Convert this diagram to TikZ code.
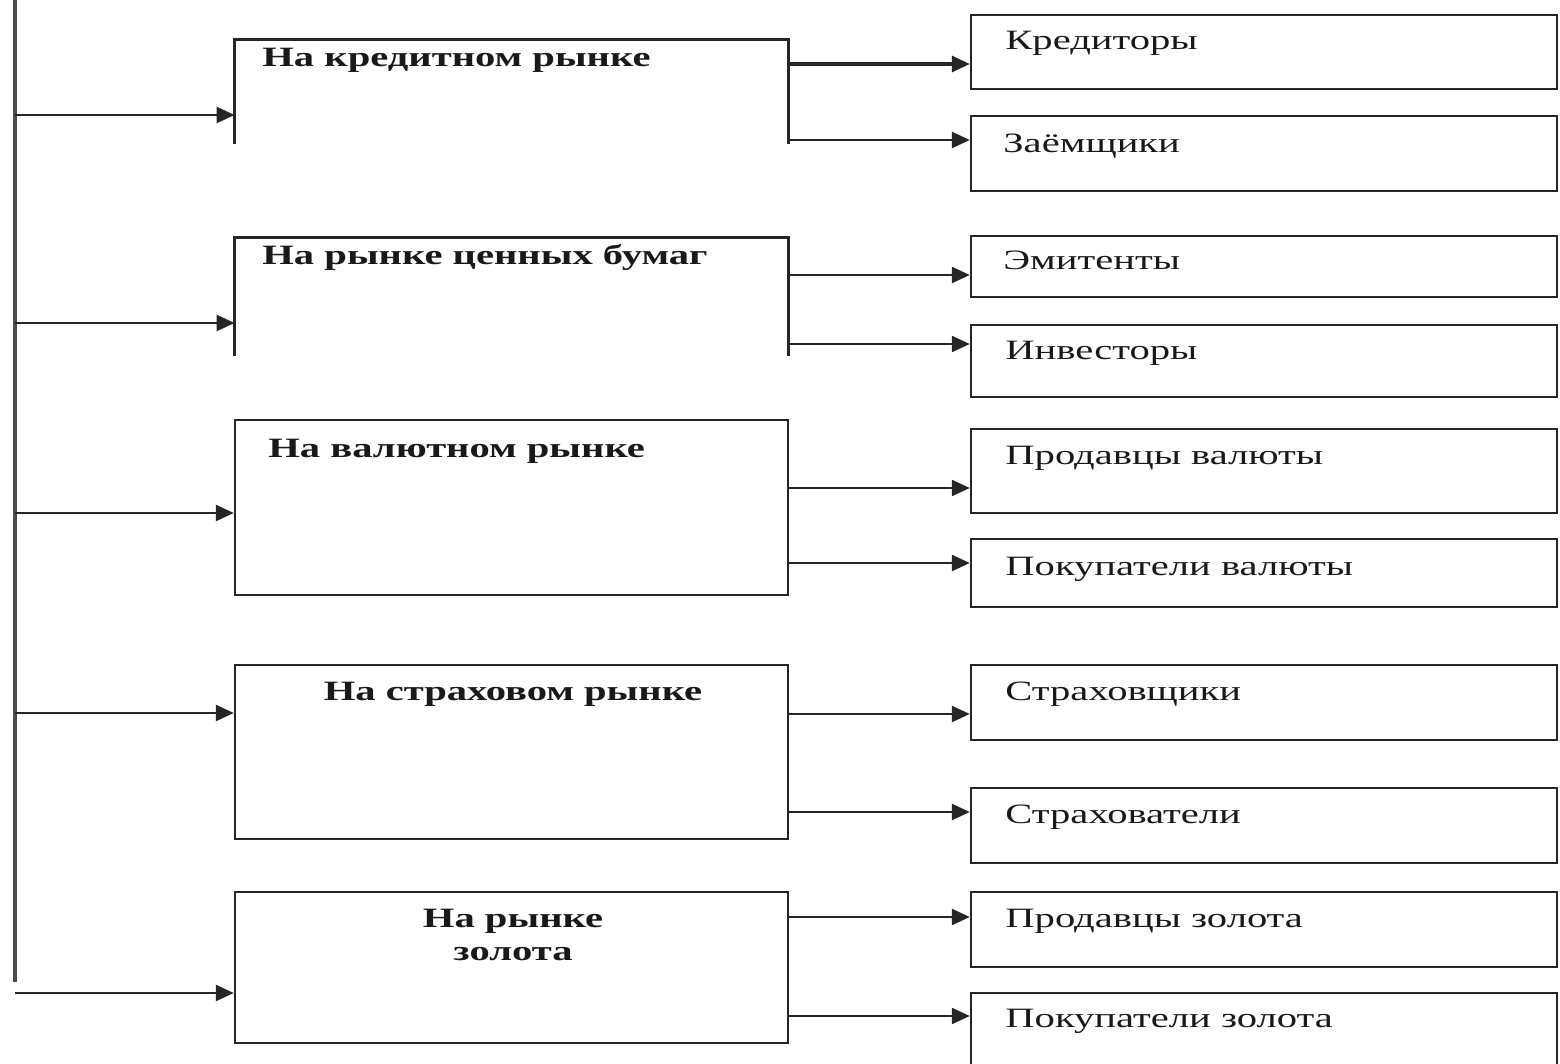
\documentclass[tikz,border=0pt]{standalone}
\usepackage{fontspec}
\setmainfont{Liberation Serif}[FakeStretch=1.45]
\usetikzlibrary{arrows.meta,fit}
\begin{document}
\begin{tikzpicture}[x=0.5pt,y=-0.5pt,
  ln/.style={draw=black!85, line width=1.2pt},
  boxfit/.style={inner sep=0pt},
  rbox/.style={ln, inner sep=0pt},
  arr/.style={ln, -{Triangle[length=9pt,width=8pt]}},
  thickarr/.style={arr, line width=1.6pt},
  trunk/.style={draw=black!70, line width=1.6pt},
  ltxt/.style={font=\fontsize{14}{16.5}\selectfont\bfseries, text=black!90, inner sep=0pt},
  rtxt/.style={font=\fontsize{14}{16.5}\selectfont, text=black!90, inner sep=0pt, anchor=base west}]
\useasboundingbox (0,0) rectangle (1560,1064);

% trunk
\coordinate (ttop) at (15,0);
\coordinate (tbot) at (15,982);
\draw[trunk] (ttop) -- (tbot);
\coordinate (t1) at (15,115);
\coordinate (t2) at (15,323);
\coordinate (t3) at (15,513);
\coordinate (t4) at (15,713);
\coordinate (t5) at (15,993);

% left boxes
\node[boxfit, fit={(235,40) (788,144)}] (b1) {};
\draw[ln] (b1.south west) -- (b1.north west) -- (b1.north east) -- (b1.south east);
\node[boxfit, fit={(235,238) (788,356)}] (b2) {};
\draw[ln] (b2.south west) -- (b2.north west) -- (b2.north east) -- (b2.south east);
\node[rbox, fit={(235,420) (788,595)}] (b3) {};
\node[rbox, fit={(235,665) (788,839)}] (b4) {};
\node[rbox, fit={(235,892) (788,1043)}] (b5) {};

% left labels
\node[ltxt, anchor=base west] (l1) at (262,67) {На кредитном рынке};
\node[ltxt, anchor=base west] (l2) at (262,265) {На рынке ценных бумаг};
\node[ltxt, anchor=base west] (l3) at (268,458) {На валютном рынке};
\node[ltxt, anchor=base] (l4) at (513,700) {На страховом рынке};
\node[ltxt, anchor=north, align=center] (l5) at (513,909) {На рынке\\золота};

% trunk arrows
\draw[arr] (t1) -- (t1 -| b1.west);
\draw[arr] (t2) -- (t2 -| b2.west);
\draw[arr] (t3) -- (t3 -| b3.west);
\draw[arr] (t4) -- (t4 -| b4.west);
\draw[arr] (t5) -- (t5 -| b5.west);

% right boxes
\node[rbox, fit={(971,15) (1557,89)}] (r1) {};
\node[rbox, fit={(971,116) (1557,191)}] (r2) {};
\node[rbox, fit={(971,236) (1557,297)}] (r3) {};
\node[rbox, fit={(971,325) (1557,397)}] (r4) {};
\node[rbox, fit={(971,429) (1557,513)}] (r5) {};
\node[rbox, fit={(971,539) (1557,607)}] (r6) {};
\node[rbox, fit={(971,665) (1557,740)}] (r7) {};
\node[rbox, fit={(971,788) (1557,863)}] (r8) {};
\node[rbox, fit={(971,892) (1557,967)}] (r9) {};
\node[rbox, fit={(971,993) (1557,1072)}] (r10) {};

% right labels
\node[rtxt] (x1) at (1005,50) {Кредиторы};
\node[rtxt] (x2) at (1003,153) {Заёмщики};
\node[rtxt] (x3) at (1003,270) {Эмитенты};
\node[rtxt] (x4) at (1005,360) {Инвесторы};
\node[rtxt] (x5) at (1005,465) {Продавцы валюты};
\node[rtxt] (x6) at (1005,575) {Покупатели валюты};
\node[rtxt] (x7) at (1005,700) {Страховщики};
\node[rtxt] (x8) at (1005,823) {Страхователи};
\node[rtxt] (x9) at (1005,927) {Продавцы золота};
\node[rtxt] (x10) at (1005,1027) {Покупатели золота};

% right arrows
\coordinate (a1) at (0,64);
\coordinate (a2) at (0,140);
\coordinate (a3) at (0,275);
\coordinate (a4) at (0,344);
\coordinate (a5) at (0,488);
\coordinate (a6) at (0,563);
\coordinate (a7) at (0,714);
\coordinate (a8) at (0,812);
\coordinate (a9) at (0,917);
\coordinate (a10) at (0,1016);
\draw[thickarr] (b1.east |- a1) -- (r1.west |- a1);
\draw[arr] (b1.east |- a2) -- (r2.west |- a2);
\draw[arr] (b2.east |- a3) -- (r3.west |- a3);
\draw[arr] (b2.east |- a4) -- (r4.west |- a4);
\draw[arr] (b3.east |- a5) -- (r5.west |- a5);
\draw[arr] (b3.east |- a6) -- (r6.west |- a6);
\draw[arr] (b4.east |- a7) -- (r7.west |- a7);
\draw[arr] (b4.east |- a8) -- (r8.west |- a8);
\draw[arr] (b5.east |- a9) -- (r9.west |- a9);
\draw[arr] (b5.east |- a10) -- (r10.west |- a10);
\end{tikzpicture}
\end{document}
